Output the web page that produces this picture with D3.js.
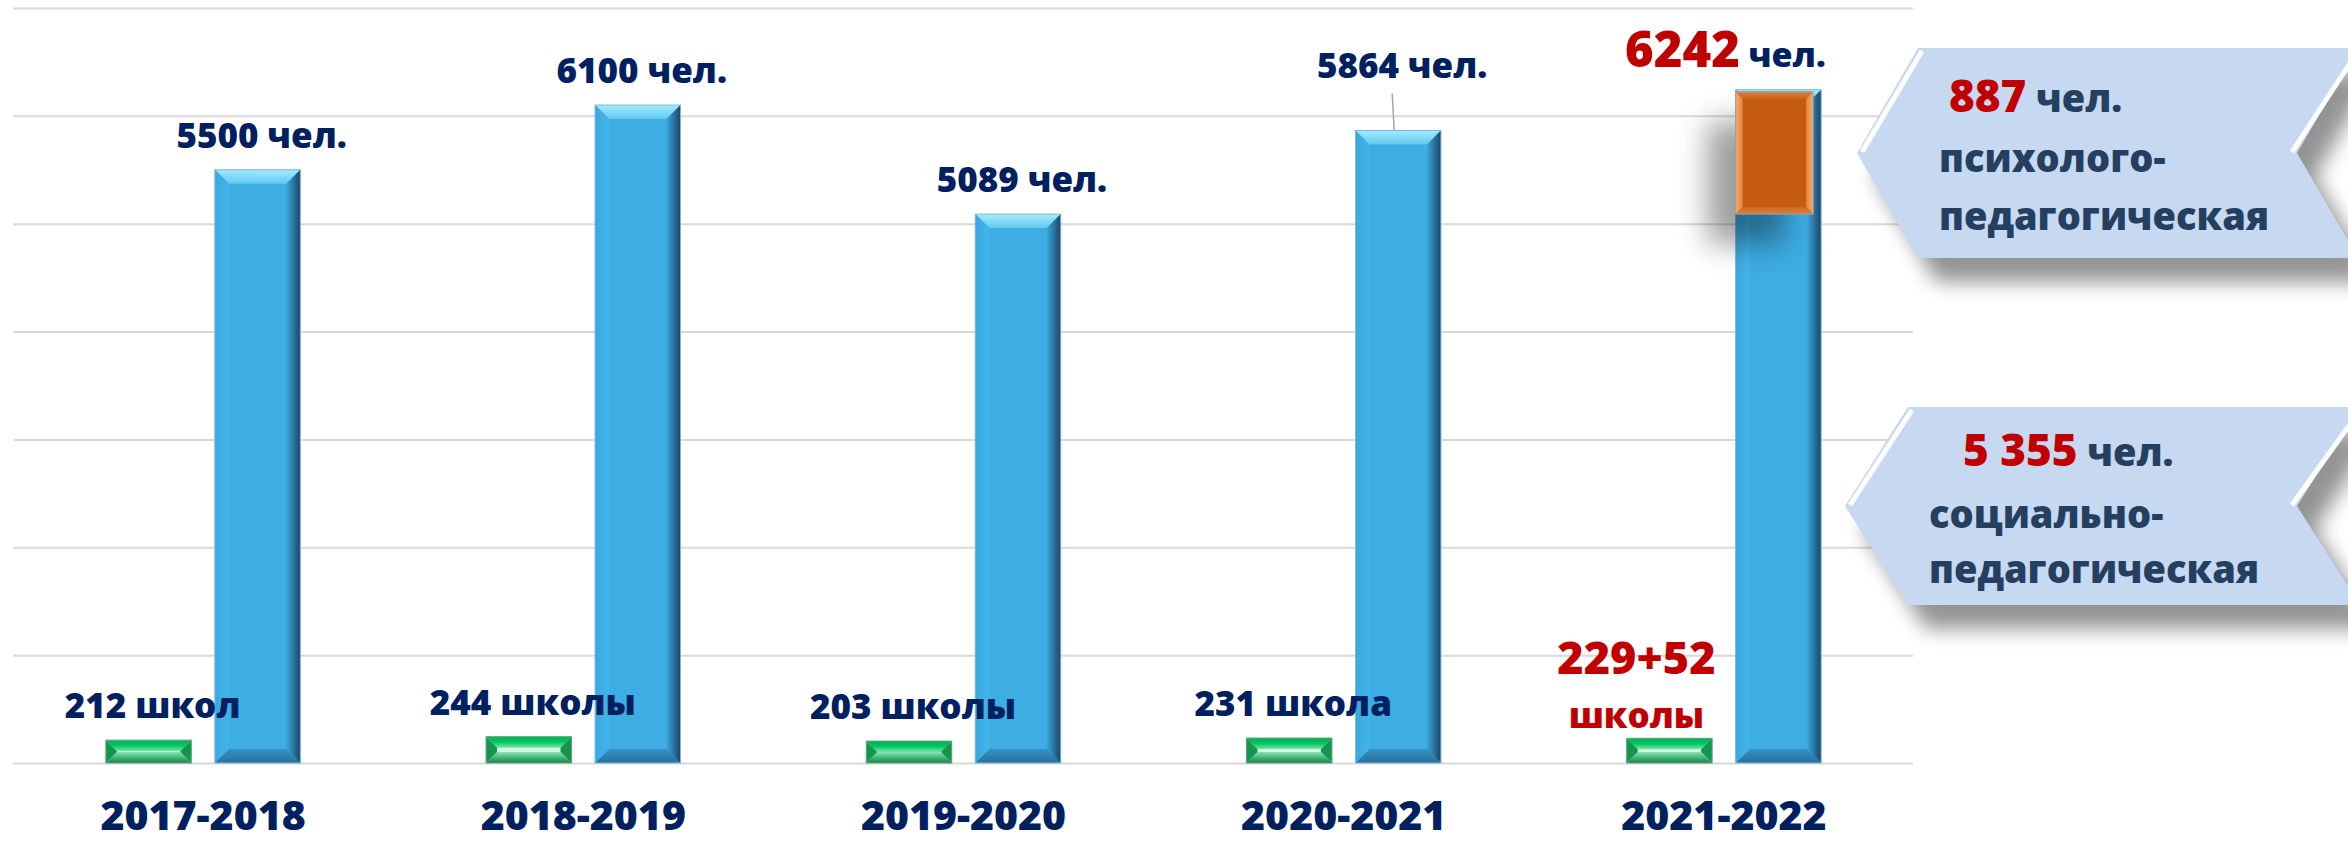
<!DOCTYPE html>
<html lang="ru">
<head>
    <meta charset="UTF-8">
    <title>Школы и участники</title>
    <style>
        body { margin: 0; background: #fff; }
        svg { display: block; }
        text { font-family: 'Open Sans', sans-serif; font-weight: 800; }
        .grid line { stroke: #d9d9d9; stroke-width: 2; }
    </style>
</head>
<body>

<svg width="2348" height="842"></svg>

<script src="https://cdn.jsdelivr.net/npm/d3@7"></script>
<script>

    // Data
    const years = ['2017-2018', '2018-2019', '2019-2020', '2020-2021', '2021-2022'];
    const schools = [212, 244, 203, 231, 229];
    const people = [5500, 6100, 5089, 5864, 6242];
    const schoolLabels = ['212 школ', '244 школы', '203 школы', '231 школа'];
    const peopleLabels = ['5500 чел.', '6100 чел.', '5089 чел.', '5864 чел.'];
    const extraSchools = 52;
    const psychoCount = 887;
    const socialCount = 5355;
    // the orange piece, as it is drawn on the last bar
    const psychoSpan = [5089, 6242];
    const yTicks = [0, 1000, 2000, 3000, 4000, 5000, 6000, 7000];

    const navy = '#002060';
    const red = '#c00000';
    const slate = '#243f60';

    const margin = { left: 13, right: 434, top: 8, bottom: 79 };

    const svg = d3.select('svg');
    const width = +svg.attr('width');
    const height = +svg.attr('height');
    const innerWidth = width - margin.left - margin.right;
    const innerHeight = height - margin.top - margin.bottom;

    const x0 = d3.scaleBand().domain(years).range([0, innerWidth]).padding(0);
    const x1 = d3.scaleBand()
        .domain(['schools', 'people'])
        .range([0, x0.bandwidth()])
        .paddingInner(0.216)
        .paddingOuter(0.852);
    const y = d3.scaleLinear().domain([0, 7000]).range([innerHeight, 0]);

    const ru = d3.formatLocale({ decimal: ',', thousands: ' ', grouping: [3], currency: ['', ''] });
    const fmtSpace = ru.format(',d');

    // gradients for the bevelled bars
    const defs = svg.append('defs');

    function grad(id, dir, stops) {
        const g = defs.append('linearGradient').attr('id', id);
        if (dir === 'v') g.attr('x1', 0).attr('y1', 0).attr('x2', 0).attr('y2', 1);
        else g.attr('x1', 0).attr('y1', 0).attr('x2', 1).attr('y2', 0);
        stops.forEach(function (c, i) {
            g.append('stop').attr('offset', i / (stops.length - 1)).attr('stop-color', c);
        });
        return 'url(#' + id + ')';
    }

    const bluePal = {
        main: '#3dade4',
        top: grad('bTop', 'v', ['#a4ecfc', '#5fc9f1']),
        right: grad('bRight', 'h', ['#3aa6dc', '#1b4565']),
        bottom: grad('bBot', 'v', ['#3592c7', '#2b6f9c']),
        left: grad('bLeft', 'h', ['#3aa8de', '#43b5ea']),
        edge: '#7fb6e0'
    };
    const greenPal = {
        main: '#d2f7e2',
        top: grad('gTop', 'v', ['#00b050', '#00c864', '#7fe3ab']),
        right: '#13954c',
        bottom: grad('gBot', 'v', ['#8fe0b2', '#3fb97a', '#287a4c']),
        left: '#13954c',
        edge: '#5aa57a'
    };
    const orangePal = {
        main: '#c55a11',
        top: grad('oTop', 'v', ['#dc823d', '#c96419']),
        right: grad('oRight', 'h', ['#e2853f', '#f8ab69']),
        bottom: grad('oBot', 'v', ['#cc6a24', '#d9803d']),
        left: grad('oLeft', 'h', ['#f8ab69', '#e2853f']),
        edge: '#8fa6bd'
    };

    function softFilter(id, sd) {
        const f = defs.append('filter').attr('id', id)
            .attr('x', '-60%').attr('y', '-60%').attr('width', '220%').attr('height', '220%');
        f.append('feGaussianBlur').attr('stdDeviation', sd);
        return 'url(#' + id + ')';
    }
    const softBox = softFilter('softBox', 10);
    const softBar = softFilter('softBar', 15);

    function bevelBar(parent, x, yTop, w, h, b, pal) {
        const g = parent.append('g');
        b = Math.min(b, h / 2, w / 2);
        const x2 = x + w;
        const y2 = yTop + h;
        g.append('rect')
            .attr('x', x).attr('y', yTop).attr('width', w).attr('height', h)
            .attr('fill', pal.main);
        const faces = [
            [[[x, yTop], [x2, yTop], [x2 - b, yTop + b], [x + b, yTop + b]], pal.top],
            [[[x2, yTop], [x2, y2], [x2 - b, y2 - b], [x2 - b, yTop + b]], pal.right],
            [[[x, y2], [x2, y2], [x2 - b, y2 - b], [x + b, y2 - b]], pal.bottom],
            [[[x, yTop], [x + b, yTop + b], [x + b, y2 - b], [x, y2]], pal.left]
        ];
        faces.forEach(function (f) {
            g.append('polygon').attr('points', f[0].join(' ')).attr('fill', f[1]);
        });
        g.append('rect')
            .attr('x', x).attr('y', yTop).attr('width', w).attr('height', h)
            .attr('fill', 'none').attr('stroke', pal.edge).attr('stroke-width', 1);
        return g;
    }

    const group = svg.append('g')
        .attr('transform', 'translate(' + margin.left + ' ' + margin.top + ')');

    // gridlines only, no tick text
    const yAxisG = group.append('g').attr('class', 'grid');
    yAxisG.call(d3.axisLeft(y).tickValues(yTicks).tickSize(-(innerWidth - 1)));
    yAxisG.select('.domain').remove();
    yAxisG.selectAll('text').remove();

    // category labels
    const xAxisG = group.append('g').attr('transform', 'translate(0 ' + innerHeight + ')');
    xAxisG.call(d3.axisBottom(x0).tickSize(0));
    xAxisG.select('.domain').remove();
    xAxisG.selectAll('text')
        .attr('y', 67)
        .attr('dy', null)
        .attr('fill', navy)
        .style('font-family', "'Open Sans', sans-serif")
        .style('font-weight', 800)
        .style('font-size', '41px');

    const bars = group.append('g');
    const labels = group.append('g');

    years.forEach(function (yr, i) {
        const gx = x0(yr) + x1('schools');
        const px = x0(yr) + x1('people');
        const bw = x1.bandwidth();

        bevelBar(bars, gx, y(schools[i]), bw, y(0) - y(schools[i]), 11, greenPal);
        bevelBar(bars, px, y(people[i]), bw, y(0) - y(people[i]), 14, bluePal);

        const gc = gx + bw / 2;
        const pc = px + bw / 2;

        if (i < 4) {
            labels.append('text')
                .attr('x', gc + 4).attr('y', y(schools[i]) - 22)
                .attr('text-anchor', 'middle').attr('fill', navy)
                .style('font-size', '35px')
                .text(schoolLabels[i]);

            const lift = i === 3 ? 31 : 0;
            labels.append('text')
                .attr('x', pc + 4).attr('y', y(people[i]) - 22 - lift)
                .attr('text-anchor', 'middle').attr('fill', navy)
                .style('font-size', '35px')
                .text(peopleLabels[i]);

            if (lift) {
                labels.append('line')
                    .attr('x1', pc - 6).attr('y1', y(people[i]) - 37)
                    .attr('x2', pc - 4).attr('y2', y(people[i]))
                    .attr('stroke', '#a6a6a6').attr('stroke-width', 1.5);
            }
        } else {
            // orange piece with its soft shadow
            const oy = y(psychoSpan[1]) + 2;
            const oh = y(psychoSpan[0]) - oy;
            bars.append('rect')
                .attr('x', px - 28).attr('y', oy + 30)
                .attr('width', bw - 8).attr('height', oh)
                .attr('fill', '#000').attr('opacity', 0.38)
                .attr('filter', softBar);
            bevelBar(bars, px, oy, bw - 8, oh, 7, orangePal);

            const tot = labels.append('text')
                .attr('x', pc - 53).attr('y', y(people[i]) - 23)
                .attr('text-anchor', 'middle');
            tot.append('tspan').attr('fill', red).style('font-size', '49px').text(people[i]);
            tot.append('tspan').attr('fill', navy).style('font-size', '34px').text(' чел.');

            labels.append('text')
                .attr('x', gc - 33).attr('y', y(schools[i]) - 64)
                .attr('text-anchor', 'middle').attr('fill', red)
                .style('font-size', '45px')
                .text(schools[i] + '+' + extraSchools);
            labels.append('text')
                .attr('x', gc - 33).attr('y', y(schools[i]) - 10)
                .attr('text-anchor', 'middle').attr('fill', red)
                .style('font-size', '35px')
                .text('школы');
        }
    });

    // callouts on the right
    const callouts = [
        { top: 48, bottom: 258, tip: 1857, left: 1918, notch: 2297,
          num: String(psychoCount), numX: 1949, textX: 1939,
          base: [112, 172, 230], lines: ['психолого-', 'педагогическая'] },
        { top: 407, bottom: 605, tip: 1845, left: 1908, notch: 2297,
          num: fmtSpace(socialCount), numX: 1963, textX: 1929,
          base: [466, 528, 583], lines: ['социально-', 'педагогическая'] }
    ];

    const calloutG = svg.append('g');

    callouts.forEach(function (c) {
        const mid = (c.top + c.bottom) / 2;
        const right = c.notch + (c.left - c.tip);
        const pts = [[c.left, c.top], [right, c.top], [c.notch, mid], [right, c.bottom],
            [c.left, c.bottom], [c.tip, mid]];

        calloutG.append('polygon')
            .attr('points', pts.map(function (p) { return [p[0] + 18, p[1] + 24]; }).join(' '))
            .attr('fill', '#000').attr('opacity', 0.42)
            .attr('filter', softBox);
        calloutG.append('polygon')
            .attr('points', pts.join(' '))
            .attr('fill', '#c6d9f0');

        // white bevel highlights
        calloutG.append('polyline')
            .attr('points', [[c.left + 4, c.top + 3], [c.tip + 5, mid - 1]].join(' '))
            .attr('fill', 'none').attr('stroke', '#fff').attr('stroke-width', 5);
        calloutG.append('polyline')
            .attr('points', [[right - 2, c.top + 6], [c.notch - 5, mid - 1]].join(' '))
            .attr('fill', 'none').attr('stroke', '#fff').attr('stroke-width', 5);

        const t = calloutG.append('text').attr('x', c.numX).attr('y', c.base[0]);
        t.append('tspan').attr('fill', red).style('font-size', '44px').text(c.num);
        t.append('tspan').attr('fill', slate).style('font-size', '38px').text(' чел.');

        c.lines.forEach(function (line, k) {
            calloutG.append('text')
                .attr('x', c.textX).attr('y', c.base[k + 1])
                .attr('fill', slate)
                .style('font-size', '38px')
                .text(line);
        });
    });

</script>
</body>
</html>
